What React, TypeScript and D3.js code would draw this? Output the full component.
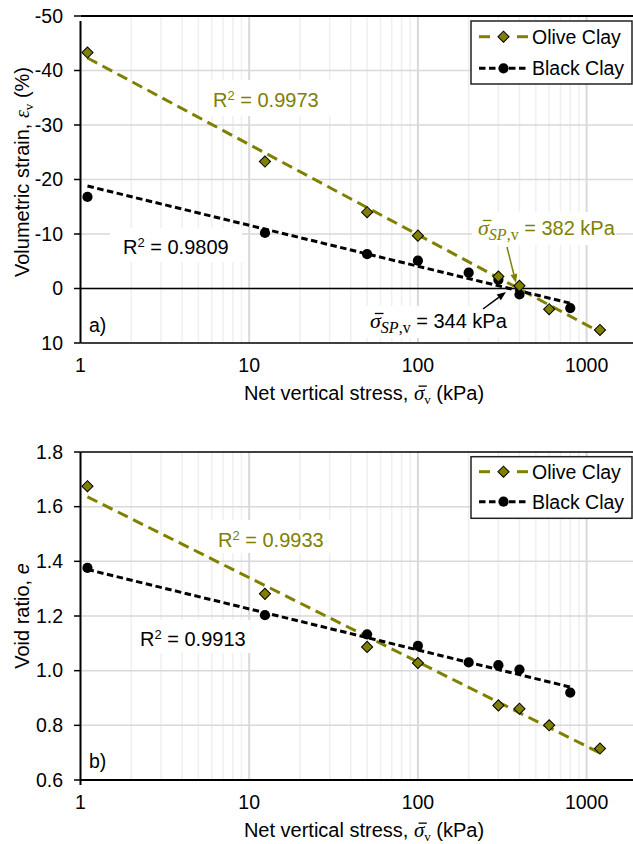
import React, { useLayoutEffect, useRef, useState } from 'react';
import * as d3 from 'd3';

const W = 633;
const H = 844;
const OLIVE = '#808000';
const FONT = '"Liberation Sans", Arial, sans-serif';
const SERIF = '"Liberation Serif", "Times New Roman", serif';

// ---- data ----
const oliveStress = [1.1, 12.4, 50, 100, 300, 400, 600, 1200];
const blackStress = [1.1, 12.4, 50, 100, 200, 300, 400, 800];
const oliveStrain = [-43.3, -23.3, -14.0, -9.7, -2.2, -0.5, 3.8, 7.6];
const blackStrain = [-16.8, -10.2, -6.3, -5.1, -2.9, -1.6, 1.1, 3.6];
const oliveVoid = [1.675, 1.281, 1.087, 1.028, 0.873, 0.861, 0.8, 0.715];
const blackVoid = [1.376, 1.203, 1.133, 1.091, 1.03, 1.02, 1.004, 0.92];

// trend lines: [stress, value] end points
const oliveStrainTrend: [number, number][] = [[1.1, -42.3], [1200, 8.0]];
const blackStrainTrend: [number, number][] = [[1.1, -18.8], [800, 2.7]];
const oliveVoidTrend: [number, number][] = [[1.1, 1.636], [1200, 0.699]];
const blackVoidTrend: [number, number][] = [[1.1, 1.37], [800, 0.94]];

const xTicks = [1, 10, 100, 1000];
const strainTicks = [-50, -40, -30, -20, -10, 0, 10];
const voidTicks = [0.6, 0.8, 1.0, 1.2, 1.4, 1.6, 1.8];
const seriesNames = ['Olive Clay', 'Black Clay'];

// ---- scales ----
const X0 = 80.5;
const DEC = 168.7;
const x = d3.scaleLog().domain([1, 2000]).range([X0, X0 + DEC * Math.log10(2000)]);
const yTop = d3.scaleLinear().domain([-50, 10]).range([16, 343]);
const yBot = d3.scaleLinear().domain([0.6, 1.8]).range([780, 452]);

const minorGrid: number[] = [];
[1, 10, 100, 1000].forEach((d) => {
  for (let k = 2; k <= 9; k++) if (d * k <= 2000) minorGrid.push(d * k);
});
const majorGrid = [10, 100, 1000];

const diamondPath = d3.symbol().type(d3.symbolSquare).size(62)() as string;
const circlePath = d3.symbol().type(d3.symbolCircle).size(82)() as string;

const Diamond = ({ cx, cy }: { cx: number; cy: number }) => (
  <path d={diamondPath} transform={`translate(${cx},${cy}) rotate(45)`} fill={OLIVE} stroke="#000" strokeWidth={1} />
);
const Dot = ({ cx, cy }: { cx: number; cy: number }) => (
  <path d={circlePath} transform={`translate(${cx},${cy})`} fill="#000" />
);

const OLIVE_DASH = '11,6';
const BLACK_DASH = '6.5,3.5';

type PanelProps = {
  y: d3.ScaleLinear<number, number>;
  ticks: number[];
  fmt: (v: number) => string;
  olive: number[];
  black: number[];
  oliveTrend: [number, number][];
  blackTrend: [number, number][];
  zeroLine?: boolean;
  legendTop: number;
  legendRow1: number;
  legendRow2: number;
  legendBottom: number;
  xLabelY: number;
  children?: React.ReactNode;
  background?: React.ReactNode;
};

function Panel(p: PanelProps) {
  const [yMin, yMax] = p.y.domain();
  const top = p.y(yMax);
  const bottom = p.y(yMin);
  const right = W + 5;
  const line = d3
    .line<[number, number]>()
    .x((d) => x(d[0]))
    .y((d) => p.y(d[1]));
  return (
    <g>
      {minorGrid.map((v) => (
        <line key={'mi' + v} x1={x(v)} x2={x(v)} y1={top} y2={bottom} stroke="#efefef" strokeWidth={1.5} />
      ))}
      {majorGrid.map((v) => (
        <line key={'ma' + v} x1={x(v)} x2={x(v)} y1={top} y2={bottom} stroke="#d9d9d9" strokeWidth={2} />
      ))}
      {p.ticks.slice(1, -1).map((v) => (
        <line key={'h' + v} x1={X0} x2={right} y1={p.y(v)} y2={p.y(v)} stroke="#d9d9d9" strokeWidth={1.5} />
      ))}
      {p.background}
      {p.zeroLine && <line x1={X0} x2={right} y1={p.y(0)} y2={p.y(0)} stroke="#000" strokeWidth={1.5} />}
      <line x1={X0} x2={right} y1={top} y2={top} stroke="#000" strokeWidth={1.5} />
      <line x1={X0} x2={right} y1={bottom} y2={bottom} stroke="#000" strokeWidth={2} />
      <line x1={X0} x2={X0} y1={top} y2={bottom + 5} stroke="#000" strokeWidth={2} />
      {p.ticks.map((v) => (
        <g key={'yt' + v}>
          <line x1={X0 - 6.5} x2={X0} y1={p.y(v)} y2={p.y(v)} stroke="#000" strokeWidth={1.5} />
          <text x={63} y={p.y(v) + 6.8} textAnchor="end" fontSize={19.5} fontFamily={FONT} fill="#000">
            {p.fmt(v)}
          </text>
        </g>
      ))}
      {xTicks.map((v) => (
        <text key={'xt' + v} x={x(v)} y={p.xLabelY} textAnchor="middle" fontSize={19.5} fontFamily={FONT} fill="#000">
          {v}
        </text>
      ))}
      <path d={line(p.oliveTrend) as string} fill="none" stroke={OLIVE} strokeWidth={3} strokeDasharray={OLIVE_DASH} />
      <path d={line(p.blackTrend) as string} fill="none" stroke="#000" strokeWidth={3} strokeDasharray={BLACK_DASH} />
      {p.children}
      {blackStress.map((s, i) => (
        <Dot key={'b' + i} cx={x(s)} cy={p.y(p.black[i])} />
      ))}
      {oliveStress.map((s, i) => (
        <Diamond key={'o' + i} cx={x(s)} cy={p.y(p.olive[i])} />
      ))}
      <rect x={471} y={p.legendTop} width={161} height={p.legendBottom - p.legendTop} fill="#fff" stroke="#222" strokeWidth={1.5} />
      <line x1={479} x2={490} y1={p.legendRow1} y2={p.legendRow1} stroke={OLIVE} strokeWidth={3} />
      <line x1={517} x2={528} y1={p.legendRow1} y2={p.legendRow1} stroke={OLIVE} strokeWidth={3} />
      <Diamond cx={503.5} cy={p.legendRow1} />
      <text x={532} y={p.legendRow1 + 7} fontSize={19.5} fontFamily={FONT} fill="#000">
        {seriesNames[0]}
      </text>
      <line x1={479} x2={528} y1={p.legendRow2} y2={p.legendRow2} stroke="#000" strokeWidth={3} strokeDasharray={BLACK_DASH} />
      <Dot cx={503.5} cy={p.legendRow2} />
      <text x={532} y={p.legendRow2 + 7} fontSize={19.5} fontFamily={FONT} fill="#000">
        {seriesNames[1]}
      </text>
    </g>
  );
}

const Arrow = ({ x1, y1, x2, y2, color }: { x1: number; y1: number; x2: number; y2: number; color: string }) => {
  const ang = Math.atan2(y2 - y1, x2 - x1);
  const L = 9;
  const wHalf = 3.5;
  const bx = x2 - L * Math.cos(ang);
  const by = y2 - L * Math.sin(ang);
  const px = -Math.sin(ang) * wHalf;
  const py = Math.cos(ang) * wHalf;
  return (
    <g>
      <line x1={x1} y1={y1} x2={bx} y2={by} stroke={color} strokeWidth={1.5} />
      <path d={`M${x2},${y2}L${bx + px},${by + py}L${bx - px},${by - py}Z`} fill={color} />
    </g>
  );
};

// sigma tspans carry data-bar so an over-bar can be drawn above them after layout
const SigmaLabel = ({ xPos, yPos, color, value }: { xPos: number; yPos: number; color: string; value: string }) => (
  <text x={xPos} y={yPos} fontSize={20} fontFamily={FONT} fill={color}>
    <tspan data-bar={color} fontFamily={SERIF} fontStyle="italic" fontSize={22}>σ</tspan>
    <tspan fontFamily={SERIF} fontStyle="italic" fontSize={16} dy={5}>SP</tspan>
    <tspan fontFamily={SERIF} fontSize={16}>,v</tspan>
    <tspan dy={-5}>{` = ${value} kPa`}</tspan>
  </text>
);

const R2 = ({ xPos, yPos, color, value }: { xPos: number; yPos: number; color: string; value: string }) => (
  <text x={xPos} y={yPos} fontSize={20} fontFamily={FONT} fill={color}>
    R<tspan fontSize={13} dy={-7}>2</tspan>
    <tspan dy={7}>{` = ${value}`}</tspan>
  </text>
);

const XTitle = ({ yPos }: { yPos: number }) => (
  <text x={364} y={yPos} textAnchor="middle" fontSize={20} fontFamily={FONT} fill="#000">
    Net vertical stress,{' '}
    <tspan data-bar="#000" fontFamily={SERIF} fontStyle="italic" fontSize={21}>σ</tspan>
    <tspan fontFamily={SERIF} fontSize={13} dy={4}>v</tspan>
    <tspan dy={-4}> (kPa)</tspan>
  </text>
);

type Bar = { x1: number; x2: number; y: number; color: string };

export default function App() {
  const svgRef = useRef<SVGSVGElement>(null);
  const [bars, setBars] = useState<Bar[]>([]);

  useLayoutEffect(() => {
    const svg = svgRef.current;
    if (!svg) return;
    const out: Bar[] = [];
    svg.querySelectorAll('tspan[data-bar]').forEach((el) => {
      const t = el as unknown as SVGTextContentElement;
      try {
        const s = t.getStartPositionOfChar(0);
        const e = t.getEndPositionOfChar(0);
        const fs = parseFloat(el.getAttribute('font-size') || '20');
        out.push({
          x1: s.x + 0.22 * fs,
          x2: e.x + 0.12 * fs,
          y: s.y - 0.66 * fs,
          color: el.getAttribute('data-bar') || '#000',
        });
      } catch (err) {
        /* ignore */
      }
    });
    setBars(out);
  }, []);

  return (
    <svg
      ref={svgRef}
      width={W}
      height={H}
      viewBox={`0 0 ${W} ${H}`}
      style={{ position: 'absolute', left: 0, top: 0, background: '#fff' }}
    >
      <rect x={0} y={0} width={W} height={H} fill="#fff" />
      <Panel
        y={yTop}
        ticks={strainTicks}
        fmt={(v) => String(v)}
        olive={oliveStrain}
        black={blackStrain}
        oliveTrend={oliveStrainTrend}
        blackTrend={blackStrainTrend}
        zeroLine
        legendTop={21}
        legendRow1={36.7}
        legendRow2={68.3}
        legendBottom={84}
        xLabelY={371.5}
        background={
          <g fill="#fff">
            <rect x={207} y={80} width={128} height={36} />
            <rect x={110} y={228} width={132} height={34} />
            <rect x={472} y={212} width={144} height={33} />
            <rect x={364} y={306} width={144} height={32} />
          </g>
        }
      >
        <R2 xPos={213} yPos={107} color={OLIVE} value="0.9973" />
        <R2 xPos={123} yPos={254} color="#000" value="0.9809" />
        <SigmaLabel xPos={478} yPos={235} color={OLIVE} value="382" />
        <SigmaLabel xPos={370} yPos={328} color="#000" value="344" />
        <Arrow x1={507} y1={247} x2={516} y2={283} color={OLIVE} />
        <Arrow x1={483} y1={309} x2={506} y2={292} color="#000" />
        <text x={89} y={332} fontSize={19.5} fontFamily={FONT} fill="#000">a)</text>
      </Panel>
      <text transform="translate(29,172) rotate(-90)" textAnchor="middle" fontSize={20} fontFamily={FONT} fill="#000">
        Volumetric strain,{' '}
        <tspan fontFamily={SERIF} fontStyle="italic" fontSize={20}>ε</tspan>
        <tspan fontFamily={SERIF} fontSize={13} dy={4}>v</tspan>
        <tspan dy={-4}> (%)</tspan>
      </text>
      <XTitle yPos={400} />

      <Panel
        y={yBot}
        ticks={voidTicks}
        fmt={(v) => d3.format('.1f')(v)}
        olive={oliveVoid}
        black={blackVoid}
        oliveTrend={oliveVoidTrend}
        blackTrend={blackVoidTrend}
        legendTop={456.7}
        legendRow1={471.7}
        legendRow2={501.7}
        legendBottom={518.3}
        xLabelY={809}
        background={
          <g fill="#fff">
            <rect x={211} y={520} width={126} height={33} />
            <rect x={132} y={620} width={118} height={33} />
          </g>
        }
      >
        <R2 xPos={218} yPos={547} color={OLIVE} value="0.9933" />
        <R2 xPos={140} yPos={646} color="#000" value="0.9913" />
        <text x={89} y={768} fontSize={19.5} fontFamily={FONT} fill="#000">b)</text>
      </Panel>
      <text transform="translate(29,616) rotate(-90)" textAnchor="middle" fontSize={20} fontFamily={FONT} fill="#000">
        Void ratio, <tspan fontStyle="italic">e</tspan>
      </text>
      <XTitle yPos={837} />

      {bars.map((b, i) => (
        <line key={'bar' + i} x1={b.x1} x2={b.x2} y1={b.y} y2={b.y} stroke={b.color} strokeWidth={1.3} />
      ))}
    </svg>
  );
}
